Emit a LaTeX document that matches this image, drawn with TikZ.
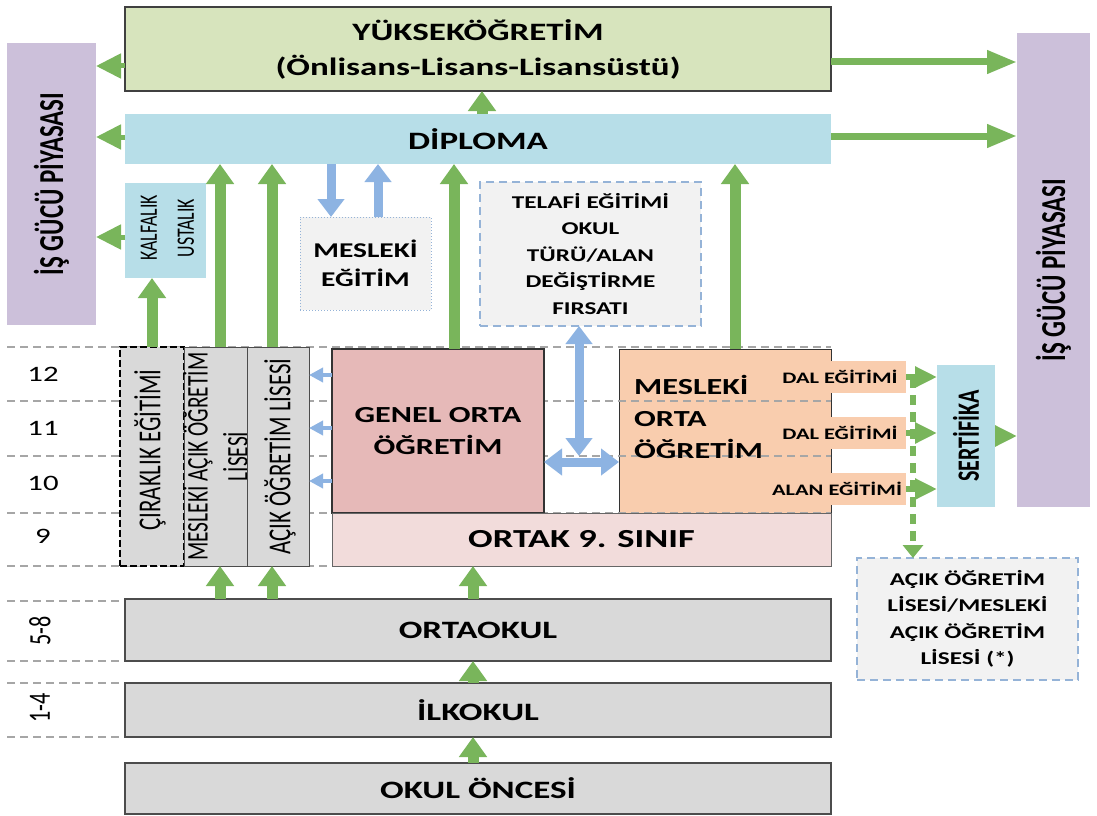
\documentclass[tikz,border=0pt]{standalone}
\usepackage{fontspec}
\setmainfont{Carlito}
\newfontfamily\hf[FakeStretch=1.4]{Carlito}
\newfontfamily\vf[FakeStretch=0.714]{Carlito}
\usetikzlibrary{arrows.meta}
\definecolor{cYuk}{HTML}{D7E4BD}
\definecolor{cDip}{HTML}{B7DEE8}
\definecolor{cPur}{HTML}{CCC0DA}
\definecolor{cGry}{HTML}{D9D9D9}
\definecolor{cLgt}{HTML}{F2F2F2}
\definecolor{cGen}{HTML}{E6B9B8}
\definecolor{cMor}{HTML}{F9CDAE}
\definecolor{cOrt}{HTML}{F2DCDB}
\definecolor{cG}{HTML}{79B55B}
\definecolor{cB}{HTML}{8DB3E2}
\definecolor{cDash}{HTML}{95B3D7}
\definecolor{cLine}{HTML}{A6A6A6}
\newcommand\HF[2]{\hf\fontsize{#1}{#2}\selectfont}
\newcommand\VF[2]{\vf\fontsize{#1}{#2}\selectfont}
\tikzset{
  bx/.style n args={2}{inner sep=0pt,outer sep=0pt,minimum width=#1,minimum height=#2},
  gline/.style={draw=cLine,line width=1.2pt,dash pattern=on 8pt off 5pt},
  gv/.style={draw=cG,line width=11pt,-{Triangle[width=27pt,length=20pt]}},
  gl/.style={draw=cG,line width=5pt,-{Triangle[width=24pt,length=25pt]}},
  gr/.style={draw=cG,line width=7pt,-{Triangle[width=22pt,length=30pt]}},
  gd/.style={draw=cG,line width=6pt,-{Triangle[width=20pt,length=22pt]}},
  gdash/.style={draw=cG,line width=6pt,dash pattern=on 10pt off 7pt,-{Triangle[width=20pt,length=13pt]}},
  bv/.style={draw=cB,line width=9pt,-{Triangle[width=26pt,length=18pt]}},
  bvv/.style={draw=cB,line width=9pt,{Triangle[width=26pt,length=18pt]}-{Triangle[width=26pt,length=18pt]}},
  bs/.style={draw=cB,line width=4pt,-{Triangle[width=14pt,length=14pt]}},
}
\begin{document}
\begin{tikzpicture}[x=1pt,y=-1pt]
\useasboundingbox (0,0) rectangle (1097,816);
\fill[white] (0,0) rectangle (1097,816);

% top
\node[bx={706pt}{84pt},fill=cYuk,draw=black!75,line width=1.5pt,align=center,font=\HF{25}{35}\bfseries] (yuk) at (478,49) {YÜKSEKÖĞRETİM\\(Önlisans-Lisans-Lisansüstü)};
\node[bx={706pt}{50pt},fill=cDip,font=\HF{25}{25}\bfseries] (dip) at (478,139) {DİPLOMA};
\node[bx={89pt}{282pt},fill=cPur] (lip) at (51.5,184) {};
\node[rotate=90,font=\VF{35}{35}\bfseries] (liptxt) at (lip.center) {İŞ GÜCÜ PİYASASI};
\node[bx={73pt}{474pt},fill=cPur] (rip) at (1053.5,270) {};
\node[rotate=90,font=\VF{35}{35}\bfseries] (riptxt) at (rip.center) {İŞ GÜCÜ PİYASASI};
\node[bx={81pt}{95pt},fill=cDip] (kal) at (165.5,230.5) {};
\node[rotate=90,align=center,font=\VF{25}{37}] (kaltxt) at (167.5,228) {KALFALIK\\USTALIK};
\node[bx={131pt}{93pt},fill=cLgt,draw=cDash,line width=1pt,dotted,align=center,font=\HF{21}{29}\bfseries] (mes) at (365.5,263.5) {MESLEKİ\\EĞİTİM};
\node[bx={221pt}{144pt},fill=cLgt,draw=cDash,line width=2pt,dash pattern=on 8pt off 5pt,align=center,font=\HF{18}{26.5}\bfseries] (tel) at (590.5,254) {TELAFİ EĞİTİMİ\\OKUL\\TÜRÜ/ALAN\\DEĞİŞTİRME\\FIRSATI};

% secondary
\node[bx={212pt}{164pt},fill=cMor,draw=black!80,line width=1pt] (mor) at (725,431) {};
\foreach \yy in {347,401,456,513,566} \draw[gline] (7,\yy) -- (831,\yy);
\foreach \yy in {601,661,683,737} \draw[gline] (7,\yy) -- (125,\yy);
\node[bx={64pt}{219pt},fill=cGry,draw=black,line width=2.2pt,dash pattern=on 7pt off 3pt] (cir) at (152,456.5) {};
\node[rotate=90,font=\VF{32}{32}] (cirtxt) at (150,450) {ÇIRAKLIK EĞİTİMİ};
\node[bx={63pt}{219pt},fill=cGry,draw=black!70,line width=1pt] (maol) at (215.5,456.5) {};
\node[rotate=90,align=center,font=\VF{30}{40}] (maoltxt) at (maol.center) {MESLEKİ AÇIK ÖĞRETİM\\LİSESİ};
\node[bx={62pt}{219pt},fill=cGry,draw=black!70,line width=1pt] (aol) at (278,456.5) {};
\node[rotate=90,font=\VF{32}{32}] (aoltxt) at (280,456.5) {AÇIK ÖĞRETİM LİSESİ};
\node[bx={212pt}{164pt},fill=cGen,draw=black!80,line width=1.2pt,align=center,font=\HF{23}{32}\bfseries] (gen) at (438,431) {GENEL ORTA\\ÖĞRETİM};
\node[bx={499pt}{53pt},fill=cOrt,draw=black!60,line width=1pt,font=\HF{26}{26}\bfseries] (ort) at (581.5,539.5) {ORTAK 9. SINIF};
\node[anchor=west,align=left,inner sep=0pt,font=\HF{23}{32}\bfseries] (mortxt) at (634,417) {MESLEKİ\\ORTA\\ÖĞRETİM};
\node[bx={138pt}{32pt},fill=cMor,font=\HF{16}{16}\bfseries] (dal1) at (837,377) {\hspace*{6pt}DAL EĞİTİMİ};
\node[bx={138pt}{32pt},fill=cMor,font=\HF{16}{16}\bfseries] (dal2) at (837,433) {\hspace*{6pt}DAL EĞİTİMİ};
\node[bx={138pt}{32pt},fill=cMor,font=\HF{16}{16}\bfseries] (alan) at (837,489) {ALAN EĞİTİMİ};
\node[bx={58pt}{142pt},fill=cDip] (ser) at (966,436) {};
\node[rotate=90,font=\VF{31}{31}\bfseries] (sertxt) at (ser.center) {SERTİFİKA};
\node[bx={221pt}{122pt},fill=cLgt,draw=cDash,line width=2pt,dash pattern=on 8pt off 5pt,align=center,font=\HF{18}{26.5}\bfseries] (aco) at (967.5,619) {AÇIK ÖĞRETİM\\LİSESİ/MESLEKİ\\AÇIK ÖĞRETİM\\LİSESİ (*)};

% grade labels
\node[font=\HF{22}{22}] (g12) at (43,374) {12};
\node[font=\HF{22}{22}] (g11) at (43,428) {11};
\node[font=\HF{22}{22}] (g10) at (43,483) {10};
\node[font=\HF{22}{22}] (g9) at (43,536) {9};
\node[rotate=90,font=\VF{31}{31}] (g58) at (40,631) {5-8};
\node[rotate=90,font=\VF{31}{31}] (g14) at (40,708) {1-4};

% basic
\node[bx={706pt}{62pt},fill=cGry,draw=black!70,line width=1.3pt,font=\HF{25}{25}\bfseries] (oo) at (478,630) {ORTAOKUL};
\node[bx={706pt}{54pt},fill=cGry,draw=black!70,line width=1.3pt,font=\HF{25}{25}\bfseries] (ilk) at (478,710) {İLKOKUL};
\node[bx={706pt}{51pt},fill=cGry,draw=black!70,line width=1.3pt,font=\HF{25}{25}\bfseries] (okp) at (478,788.5) {OKUL ÖNCESİ};

% arrows to left labour market
\draw[gl] ([yshift=-17pt]yuk.west) -- ([yshift=-17pt]yuk.west -| lip.east);
\draw[gl] ([yshift=2pt]dip.west) -- ([yshift=2pt]dip.west -| lip.east);
\draw[gl] ([yshift=-6.5pt]kal.west) -- ([yshift=-6.5pt]kal.west -| lip.east);
% arrows to right labour market
\draw[gr] ([yshift=-13pt]yuk.east) -- ([yshift=-13pt]yuk.east -| rip.west);
\draw[gr] ([yshift=3pt]dip.east) -- ([yshift=3pt]dip.east -| rip.west);
% up arrows
\draw[gv] (cir.north) -- (cir.north |- kal.south);
\draw[gv] ([xshift=4.5pt]maol.north) -- ([xshift=4.5pt]maol.north |- dip.south);
\draw[gv] ([xshift=-6pt]aol.north) -- ([xshift=-6pt]aol.north |- dip.south);
\draw[gv] ([xshift=16pt]gen.north) -- ([xshift=16pt]gen.north |- dip.south);
\draw[gv] ([xshift=10pt]mor.north) -- ([xshift=10pt]mor.north |- dip.south);
\draw[gv] ([xshift=4pt]dip.north) -- ([xshift=4pt]dip.north |- yuk.south);
\draw[gv] ([xshift=4.5pt]maol.south |- oo.north) -- ([xshift=4.5pt]maol.south);
\draw[gv] ([xshift=-6pt]aol.south |- oo.north) -- ([xshift=-6pt]aol.south);
\draw[gv] ([xshift=-5pt]oo.north) -- ([xshift=-5pt]oo.north |- ort.south);
\draw[gv] ([xshift=-5pt]ilk.north) -- ([xshift=-5pt]ilk.north |- oo.south);
\draw[gv] ([xshift=-5pt]okp.north) -- ([xshift=-5pt]okp.north |- ilk.south);
% blue arrows
\draw[bv] ([xshift=-34.5pt]mes.north |- dip.south) -- ([xshift=-34.5pt]mes.north);
\draw[bv] ([xshift=12.5pt]mes.north) -- ([xshift=12.5pt]mes.north |- dip.south);
\coordinate (hub) at (579,456);
\draw[bvv] (hub |- tel.south) -- (hub);
\draw[bvv] ([yshift=-31pt]gen.east) -- ([yshift=-31pt]gen.east -| mor.west);
\draw[bs] ([yshift=56pt]gen.west) -- ([yshift=56pt]gen.west -| aol.east);
\draw[bs] ([yshift=3pt]gen.west) -- ([yshift=3pt]gen.west -| aol.east);
\draw[bs] ([yshift=-50pt]gen.west) -- ([yshift=-50pt]gen.west -| aol.east);
% certificate arrows
\draw[gd] (dal1.east) -- (dal1.east -| ser.west);
\draw[gd] (dal2.east) -- (dal2.east -| ser.west);
\draw[gd] (alan.east) -- (alan.east -| ser.west);
\draw[gd] (ser.east) -- (ser.east -| rip.west);
\coordinate (gdt) at (913,378);
\draw[gdash] (gdt) -- (gdt |- aco.north);
\end{tikzpicture}
\end{document}
